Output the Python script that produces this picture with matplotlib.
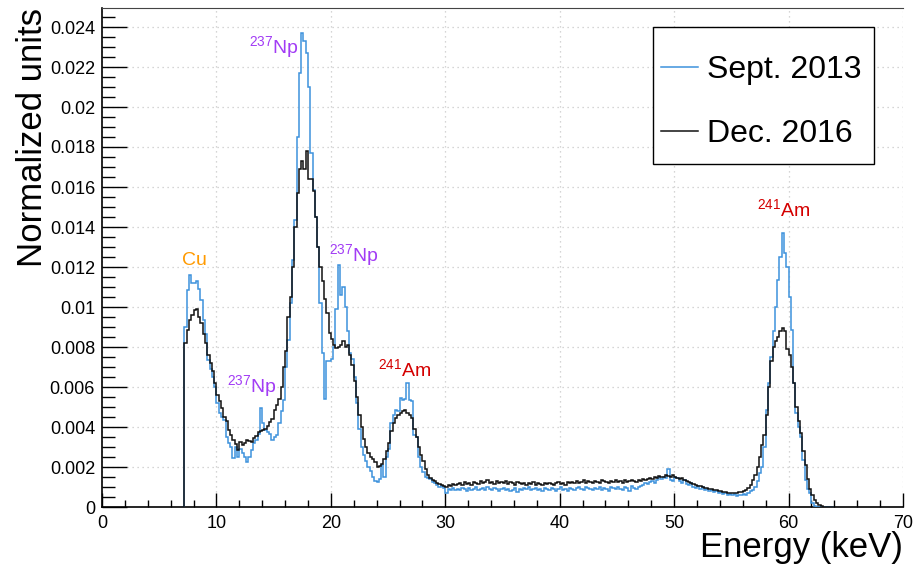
import numpy as np
import matplotlib
matplotlib.use("Agg")
import matplotlib.pyplot as plt
from matplotlib.patches import Rectangle
from matplotlib.ticker import MultipleLocator, FuncFormatter

plt.rcParams["font.family"] = ["Liberation Sans", "DejaVu Sans"]
plt.rcParams["mathtext.fontset"] = "custom"
plt.rcParams["mathtext.rm"] = "Liberation Sans"
plt.rcParams["mathtext.it"] = "Liberation Sans"
plt.rcParams["mathtext.bf"] = "Liberation Sans"

# ==============================
# Datos (unidades de 1e-3)
# bins de 0.2 keV desde 7.0 keV
# ==============================
bin_lo = 7.0
bin_width = 0.2

sept_2013 = [
    0.0, 9.0, 10.85, 11.6, 11.2, 11.2, 11.3, 10.9, 10.35, 9.35,      # 7-9
    8.65, 7.35, 6.9, 6.5, 6.0, 5.2, 4.7, 4.5, 4.35, 3.5,             # 9-11
    3.2, 3.0, 2.45, 3.0, 2.5, 2.9, 2.7, 2.5, 2.25, 2.5,              # 11-13
    2.85, 3.2, 3.35, 3.65, 4.95, 4.2, 3.85, 3.75, 3.65, 3.35,        # 13-15
    3.5, 3.6, 4.2, 4.8, 5.35, 7.0, 8.35, 10.2, 12.35, 14.35,         # 15-17
    18.5, 21.7, 23.7, 23.3, 22.7, 21.0, 17.7, 15.85, 14.5, 13.0,     # 17-19
    10.2, 7.7, 5.4, 7.3, 7.3, 7.4, 8.0, 9.9, 12.1, 10.6,             # 19-21
    11.0, 10.0, 8.8, 7.7, 7.4, 6.5, 5.2, 3.9, 3.0, 2.6,              # 21-23
    2.3, 2.0, 1.8, 1.5, 1.3, 1.25, 1.4, 2.1, 1.5, 2.5,               # 23-25
    2.9, 4.2, 4.6, 4.85, 4.8, 5.45, 5.35, 5.4, 6.2, 5.35,            # 25-27
    5.3, 3.6, 3.5, 2.5, 2.0, 1.75, 1.5, 1.45, 1.4, 1.25,             # 27-29
    1.2, 1.1, 1.0, 1.05, 0.95, 0.7, 0.9, 0.85, 0.95, 0.85,           # 29-31
    0.9, 0.85, 0.95, 0.9, 0.8, 0.95, 0.85, 0.9, 1.0, 0.85,           # 31-33
    0.9, 0.95, 0.85, 1.0, 0.9, 0.85, 0.95, 0.9, 0.8, 0.9,            # 33-35
    0.95, 0.85, 0.9, 0.8, 0.85, 0.95, 0.75, 0.9, 0.85, 0.95,         # 35-37
    0.9, 1.0, 0.85, 0.9, 0.95, 0.85, 0.9, 0.8, 0.95, 0.9,            # 37-39
    0.85, 0.95, 0.9, 0.8, 0.9, 1.0, 0.85, 0.9, 0.8, 0.95,            # 39-41
    0.9, 0.85, 0.95, 1.0, 0.9, 0.85, 1.0, 0.95, 0.9, 0.85,           # 41-43
    0.95, 0.9, 1.0, 0.85, 0.95, 0.9, 0.8, 1.0, 0.95, 0.9,            # 43-45
    1.0, 0.9, 0.85, 1.0, 0.95, 0.8, 1.05, 0.95, 0.9, 1.0,            # 45-47
    1.05, 1.1, 1.2, 1.15, 1.25, 1.3, 1.2, 1.35, 1.5, 1.4,            # 47-49
    1.5, 1.45, 1.9, 1.35, 1.3, 1.5, 1.45, 1.3, 1.2, 1.35,            # 49-51
    1.15, 1.1, 1.2, 1.0, 0.95, 1.05, 0.9, 1.0, 0.85, 0.9,            # 51-53
    0.8, 0.85, 0.75, 0.8, 0.7, 0.75, 0.65, 0.7, 0.6, 0.65,           # 53-55
    0.6, 0.65, 0.55, 0.6, 0.6, 0.65, 0.6, 0.7, 0.8, 0.85,            # 55-57
    1.0, 1.3, 1.7, 2.0, 3.0, 4.85, 6.2, 7.5, 8.8, 10.0,              # 57-59
    11.35, 12.5, 13.7, 12.7, 12.0, 10.5, 8.85, 6.2, 4.7, 4.0,        # 59-61
    3.5, 2.35, 1.35, 0.9, 0.7, 0.2, 0.05, 0.0, 0.0, 0.0,             # 61-63
    0.0, 0.0, 0.0, 0.0, 0.0,                                         # 63-64
]

dec_2016 = [
    0.0, 8.2, 8.85, 9.35, 9.6, 9.85, 9.9, 9.5, 9.2, 8.65,            # 7-9
    8.2, 7.6, 7.2, 6.8, 6.2, 5.6, 5.3, 4.95, 4.5, 4.3,               # 9-11
    3.85, 3.6, 3.35, 3.15, 2.85, 3.25, 3.1, 3.2, 3.35, 3.3,          # 11-13
    3.25, 3.45, 3.55, 3.75, 3.8, 3.85, 3.9, 4.05, 4.25, 4.4,         # 13-15
    4.85, 5.1, 5.4, 6.0, 7.0, 7.8, 9.5, 10.5, 12.0, 14.0,            # 15-17
    15.7, 16.9, 17.3, 16.9, 17.8, 16.4, 16.4, 15.8, 14.5, 13.0,      # 17-19
    12.0, 11.3, 10.4, 9.7, 8.7, 8.4, 8.1, 7.95, 8.0, 8.1,            # 19-21
    8.3, 8.0, 8.1, 7.6, 7.1, 6.3, 5.5, 4.6, 4.0, 3.4,                # 21-23
    3.0, 2.7, 2.5, 2.4, 2.25, 2.0, 2.05, 2.15, 2.4, 2.8,             # 23-25
    3.2, 3.8, 4.2, 4.45, 4.6, 4.7, 4.8, 4.85, 4.7, 4.6,              # 25-27
    4.45, 3.9, 3.5, 3.0, 2.6, 2.3, 1.9, 1.6, 1.45, 1.35,             # 27-29
    1.3, 1.2, 1.15, 1.1, 1.05, 1.0, 1.1, 1.05, 1.15, 1.1,            # 29-31
    1.15, 1.2, 1.1, 1.25, 1.15, 1.2, 1.1, 1.25, 1.2, 1.15,           # 31-33
    1.3, 1.2, 1.25, 1.35, 1.2, 1.25, 1.15, 1.3, 1.2, 1.25,           # 33-35
    1.2, 1.3, 1.15, 1.25, 1.2, 1.1, 1.25, 1.2, 1.15, 1.2,            # 35-37
    1.1, 1.2, 1.15, 1.25, 1.1, 1.2, 1.15, 1.1, 1.2, 1.15,            # 37-39
    1.2, 1.15, 1.1, 1.2, 1.25, 1.15, 1.2, 1.1, 1.25, 1.2,            # 39-41
    1.25, 1.2, 1.3, 1.2, 1.25, 1.35, 1.2, 1.3, 1.25, 1.2,            # 41-43
    1.3, 1.25, 1.2, 1.35, 1.3, 1.25, 1.2, 1.3, 1.25, 1.35,           # 43-45
    1.25, 1.3, 1.2, 1.35, 1.25, 1.3, 1.35, 1.3, 1.25, 1.35,          # 45-47
    1.3, 1.4, 1.35, 1.4, 1.45, 1.4, 1.5, 1.45, 1.55, 1.5,            # 47-49
    1.5, 1.6, 1.55, 1.5, 1.6, 1.5, 1.45, 1.4, 1.45, 1.35,            # 49-51
    1.3, 1.25, 1.2, 1.15, 1.1, 1.05, 1.05, 1.0, 0.95, 0.95,          # 51-53
    0.9, 0.9, 0.85, 0.85, 0.8, 0.8, 0.75, 0.75, 0.7, 0.7,            # 53-55
    0.7, 0.72, 0.7, 0.75, 0.75, 0.8, 0.85, 0.95, 1.1, 1.35,          # 55-57
    1.6, 2.0, 2.5, 3.1, 3.6, 4.6, 6.0, 7.3, 8.0, 8.3,                # 57-59
    8.5, 8.8, 8.95, 8.8, 7.9, 7.6, 7.0, 6.2, 5.0, 4.3,               # 59-61
    3.7, 2.8, 2.1, 1.4, 0.9, 0.6, 0.35, 0.2, 0.1, 0.05,              # 61-63
    0.02, 0.0, 0.0, 0.0, 0.0,                                        # 63-64
]

series_labels = ["Sept. 2013", "Dec. 2016"]
series_colors = ["#3d92dc", "#111111"]

# etiquetas de picos: texto, energia (keV), altura, color
peak_labels = [r"Cu", r"$^{237}$Np", r"$^{237}$Np", r"$^{237}$Np", r"$^{241}$Am", r"$^{241}$Am"]
peak_energy = [8.05, 12.85, 19.85, 10.96, 24.15, 57.23]
peak_height = [0.0121, 0.0227, 0.01227, 0.00572, 0.00652, 0.01455]
peak_colors = ["#ff9a00", "#a23cf5", "#a23cf5", "#a23cf5", "#d40000", "#d40000"]
peak_align = ["center", "left", "left", "left", "left", "left"]

# ==============================
# Figura
# ==============================
W, H = 916, 565
fig = plt.figure(figsize=(W / 100, H / 100), dpi=100)
ax = fig.add_axes([102 / W, 1 - 507 / H, 801 / W, 499 / H])

edges = bin_lo + bin_width * np.arange(len(sept_2013) + 1)
for vals, lab, col in zip([sept_2013, dec_2016], series_labels, series_colors):
    ax.stairs(np.array(vals) * 1e-3, edges, color=col, linewidth=1.1, label=lab, zorder=3)

ax.set_xlim(0, 70)
ax.set_ylim(0, 0.02495)

ax.xaxis.set_major_locator(MultipleLocator(10))
ax.xaxis.set_minor_locator(MultipleLocator(2))
ax.yaxis.set_major_locator(MultipleLocator(0.002))
ax.yaxis.set_minor_locator(MultipleLocator(0.0005))
ax.yaxis.set_major_formatter(FuncFormatter(lambda v, p: "%g" % round(v, 6)))

ax.tick_params(axis="x", which="major", direction="in", length=10, width=1.0, labelsize=13, pad=6)
ax.tick_params(axis="x", which="minor", direction="in", length=5, width=1.0)
ax.tick_params(axis="y", which="major", direction="in", length=18, width=1.0, labelsize=13, pad=5)
ax.tick_params(axis="y", which="minor", direction="in", length=9.4, width=1.0)

ax.grid(True, which="major", color="#c8c8c8", linestyle=(0, (1, 3)), linewidth=0.9, zorder=0)
ax.spines["right"].set_visible(False)
ax.spines["top"].set_linewidth(0.8)
ax.spines["top"].set_color("#444444")
ax.spines["left"].set_linewidth(1.2)
ax.spines["bottom"].set_linewidth(1.2)

for txt, e, h, col, al in zip(peak_labels, peak_energy, peak_height, peak_colors, peak_align):
    ax.text(e, h, txt, color=col, fontsize=14, ha=al, va="baseline", zorder=4)

# leyenda estilo ROOT: caja dibujada aparte
ax.add_patch(Rectangle((653 / W, 1 - 164 / H), 221 / W, 137 / H, transform=fig.transFigure,
                       facecolor="white", edgecolor="black", linewidth=1.0, zorder=5, clip_on=False))
leg = ax.legend(loc="center left", bbox_to_anchor=(661 / W, 1 - 102 / H), bbox_transform=fig.transFigure,
                fontsize=23, frameon=False, handlelength=1.15, handletextpad=0.3,
                labelspacing=1.05, borderpad=0, borderaxespad=0)
leg.set_zorder(6)

fig.text(33 / W, 1 - 8 / H, "Normalized units", rotation=90, ha="center", va="top", fontsize=25)
fig.text(903 / W, 1 - 548 / H, "Energy (keV)", ha="right", va="center", fontsize=25)

plt.savefig("out.png", dpi=100)
